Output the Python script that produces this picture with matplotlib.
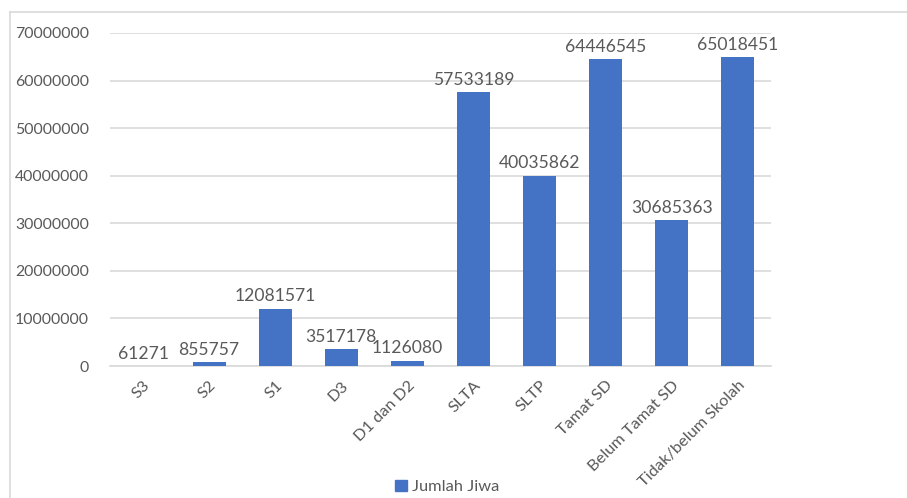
import matplotlib
matplotlib.use("Agg")
import matplotlib.pyplot as plt
from matplotlib.patches import Rectangle
from matplotlib.lines import Line2D

categories = ["S3", "S2", "S1", "D3", "D1 dan D2", "SLTA", "SLTP", "Tamat SD",
              "Belum Tamat SD", "Tidak/belum Skolah"]
values = [61271, 855757, 12081571, 3517178, 1126080, 57533189, 40035862,
          64446545, 30685363, 65018451]
series_name = "Jumlah Jiwa"
yticks = list(range(0, 70000001, 10000000))

W, H = 907, 498
fig = plt.figure(figsize=(W / 100, H / 100), dpi=100)
plt.rcParams['font.family'] = ['Lato', 'DejaVu Sans']
text_color = "#595959"
grid_color = "#D9D9D9"
bar_color = "#4472C4"

# chart border
fig.add_artist(Line2D([10 / W, 10 / W], [0, 1 - 12 / H], transform=fig.transFigure,
                      color=grid_color, lw=1.2))
fig.add_artist(Line2D([10 / W, 1], [1 - 12 / H, 1 - 12 / H], transform=fig.transFigure,
                      color=grid_color, lw=1.2))

ax = fig.add_axes([110 / W, 1 - 366 / H, (771 - 110) / W, (366 - 33) / H])
x = list(range(len(categories)))
bars = ax.bar(x, values, width=0.5, color=bar_color, zorder=3, label=series_name)
ax.set_xlim(-0.5, len(categories) - 0.5)
ax.set_ylim(0, 70000000)
ax.set_yticks(yticks)
ax.set_yticklabels([str(v) for v in yticks], fontsize=11.4, color=text_color)
ax.yaxis.grid(True, color=grid_color, lw=1.2, zorder=0)
ax.set_xticks(x)
ax.set_xticklabels(categories, rotation=45, ha="right", rotation_mode="anchor",
                   fontsize=11.8, color=text_color)
ax.tick_params(axis="both", length=0)
ax.tick_params(axis="y", pad=15)
ax.tick_params(axis="x", pad=9)
for s in ["top", "right", "left"]:
    ax.spines[s].set_visible(False)
ax.spines["bottom"].set_color(grid_color)
ax.spines["bottom"].set_linewidth(1.2)

for xi, v in zip(x, values):
    ax.annotate(str(v), (xi, v), xytext=(0, 3), textcoords="offset points",
                ha="center", va="bottom", fontsize=12.6, color=text_color, zorder=4)

leg = fig.legend(handles=[Rectangle((0, 0), 1, 1, color=bar_color)], labels=[series_name],
                 loc="center", bbox_to_anchor=(447 / W, 1 - 487 / H), frameon=False,
                 fontsize=11.8, handlelength=0.7, handleheight=0.7, handletextpad=0.3,
                 labelcolor=text_color)

fig.savefig("out.png", dpi=100, facecolor="white")
